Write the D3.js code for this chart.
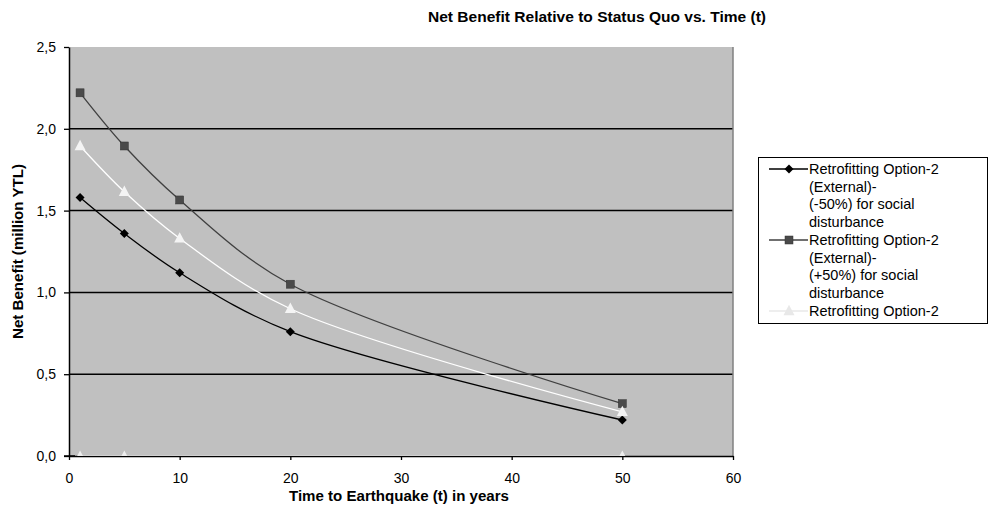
<!DOCTYPE html>
<html><head><meta charset="utf-8">
<script src="https://cdn.jsdelivr.net/npm/d3@7"></script>
<style>body{margin:0;background:#fff;} svg{display:block;font-family:Arial,"Liberation Sans",sans-serif;}</style>
</head><body>
<svg id="chart" width="990" height="510"></svg>
<script>
const timePoints = [1, 5, 10, 20, 50];
const seriesMinus50 = [1.58, 1.36, 1.12, 0.76, 0.22];
const seriesPlus50 = [2.22, 1.895, 1.565, 1.05, 0.32];
const seriesBase = [1.895, 1.615, 1.33, 0.90, 0.27];
const baselineT = [1, 5, 50];
const baselineValues = [0, 0, 0];
const xTicks = [0, 10, 20, 30, 40, 50, 60];
const yTicks = [0, 0.5, 1.0, 1.5, 2.0, 2.5];
const legendLabels = [
  ["Retrofitting Option-2", "(External)-", "(-50%) for social", "disturbance"],
  ["Retrofitting Option-2", "(External)-", "(+50%) for social", "disturbance"],
  ["Retrofitting Option-2"]
];
const titleText = "Net Benefit Relative to Status Quo vs. Time (t)";
const xTitle = "Time to Earthquake (t) in years";
const yTitle = "Net Benefit (million YTL)";

const svg = d3.select("#chart");
const L = 69, R = 733, T = 47, B = 456;
const x = d3.scaleLinear().domain([0, 60]).range([L, R]);
const y = d3.scaleLinear().domain([0, 2.5]).range([B, T]);

svg.append("rect").attr("x", L).attr("y", T).attr("width", R - L).attr("height", B - T).attr("fill", "#c0c0c0");

// gridlines
svg.append("g").selectAll("line").data(yTicks.filter(d => d > 0 && d < 2.5)).join("line")
  .attr("x1", L).attr("x2", R).attr("y1", d => y(d)).attr("y2", d => y(d))
  .attr("stroke", "#000").attr("stroke-width", 1.5);

// right border of plot
svg.append("line").attr("x1", R).attr("x2", R).attr("y1", T).attr("y2", B).attr("stroke", "#808080").attr("stroke-width", 1.5);

const fmt = d => d3.format(".1f")(d).replace(".", ",");
const yAxis = svg.append("g").attr("transform", `translate(${L},0)`)
  .call(d3.axisLeft(y).tickValues(yTicks).tickFormat(fmt).tickSizeOuter(0).tickSizeInner(5).tickPadding(8));
const xAxis = svg.append("g").attr("transform", `translate(0,${B})`)
  .call(d3.axisBottom(x).tickValues(xTicks).tickFormat(d3.format("d")).tickSizeOuter(0).tickSizeInner(4).tickPadding(13));
[yAxis, xAxis].forEach(a => {
  a.selectAll("path").attr("stroke", "#000").attr("stroke-width", 1.5);
  a.selectAll("line").attr("stroke", "#000").attr("stroke-width", 1.3);
  a.selectAll("text").attr("font-size", 14).attr("fill", "#000").attr("font-family", "Arial, 'Liberation Sans', sans-serif");
});
// cross tick at origin
svg.append("line").attr("x1", x(0) - 5).attr("x2", x(0) + 6).attr("y1", y(0)).attr("y2", y(0)).attr("stroke", "#000").attr("stroke-width", 1.5);

svg.append("clipPath").attr("id", "plotclip").append("rect")
  .attr("x", L).attr("y", T).attr("width", R - L).attr("height", B - T);

const line = d3.line().curve(d3.curveCatmullRom.alpha(0.5));

function triPath(cx, cy, s) {
  return `M${cx},${cy - s * 0.62}L${cx + s * 0.55},${cy + s * 0.42}L${cx - s * 0.55},${cy + s * 0.42}Z`;
}

// baseline (hidden) series drawn over the x-axis
const bg = svg.append("g").attr("clip-path", "url(#plotclip)");
bg.append("path").attr("d", line(baselineT.map((t, i) => [x(t), y(baselineValues[i])])))
  .attr("fill", "none").attr("stroke", "#e6e6e6").attr("stroke-width", 1.5);
bg.selectAll("path.m").data(baselineT).join("path").attr("class", "m")
  .attr("d", (t, i) => triPath(x(t), y(baselineValues[i]), 9)).attr("fill", "#eeeeee");

const series = [
  {vals: seriesMinus50, color: "#000", mcolor: "#000", marker: "diamond"},
  {vals: seriesPlus50, color: "#404040", mcolor: "#4a4a4a", marker: "square"},
  {vals: seriesBase, color: "#ffffff", mcolor: "#f4f4f4", marker: "triangle"}
];

function drawMarker(g, type, cx, cy, color) {
  if (type === "diamond") {
    g.append("path").attr("d", `M${cx},${cy - 4.5}L${cx + 4.5},${cy}L${cx},${cy + 4.5}L${cx - 4.5},${cy}Z`).attr("fill", color);
  } else if (type === "square") {
    g.append("rect").attr("x", cx - 4).attr("y", cy - 4).attr("width", 8).attr("height", 8).attr("fill", color).attr("stroke", "#333").attr("stroke-width", 0.5);
  } else {
    g.append("path").attr("d", triPath(cx, cy, 10)).attr("fill", color);
  }
}

const sg = svg.append("g");
series.slice().reverse().forEach(s => {
  sg.append("path").attr("d", line(timePoints.map((t, i) => [x(t), y(s.vals[i])])))
    .attr("fill", "none").attr("stroke", s.color).attr("stroke-width", 1.3);
});
series.forEach(s => {
  timePoints.forEach((t, i) => drawMarker(sg, s.marker, x(t), y(s.vals[i]), s.mcolor));
});

// titles
svg.append("text").attr("x", 597).attr("y", 22).attr("text-anchor", "middle")
  .attr("font-size", 14).attr("font-weight", "bold")
  .attr("textLength", 338).attr("lengthAdjust", "spacingAndGlyphs").text(titleText);
svg.append("text").attr("x", 399).attr("y", 501).attr("text-anchor", "middle")
  .attr("font-size", 14).attr("font-weight", "bold")
  .attr("textLength", 220).attr("lengthAdjust", "spacingAndGlyphs").text(xTitle);
svg.append("text").attr("transform", `translate(23,${(T + B) / 2}) rotate(-90)`).attr("text-anchor", "middle")
  .attr("font-size", 14).attr("font-weight", "bold")
  .attr("textLength", 175).attr("lengthAdjust", "spacingAndGlyphs").text(yTitle);

// legend
const lg = svg.append("g");
lg.append("rect").attr("x", 758.5).attr("y", 157.5).attr("width", 229).attr("height", 166)
  .attr("fill", "#fff").attr("stroke", "#000").attr("stroke-width", 1);
const entryY = [169, 240, 311];
series.forEach((s, k) => {
  const cy = entryY[k];
  lg.append("line").attr("x1", 769).attr("x2", 808).attr("y1", cy).attr("y2", cy)
    .attr("stroke", k === 2 ? "#e8e8e8" : s.color).attr("stroke-width", 1.3);
  drawMarker(lg, s.marker, 789, cy, k === 2 ? "#e8e8e8" : s.mcolor);
  legendLabels[k].forEach((txt, j) => {
    lg.append("text").attr("x", 809).attr("y", cy + 5 + j * 17.5).attr("font-size", 14.5).text(txt);
  });
});
</script>
</body></html>
